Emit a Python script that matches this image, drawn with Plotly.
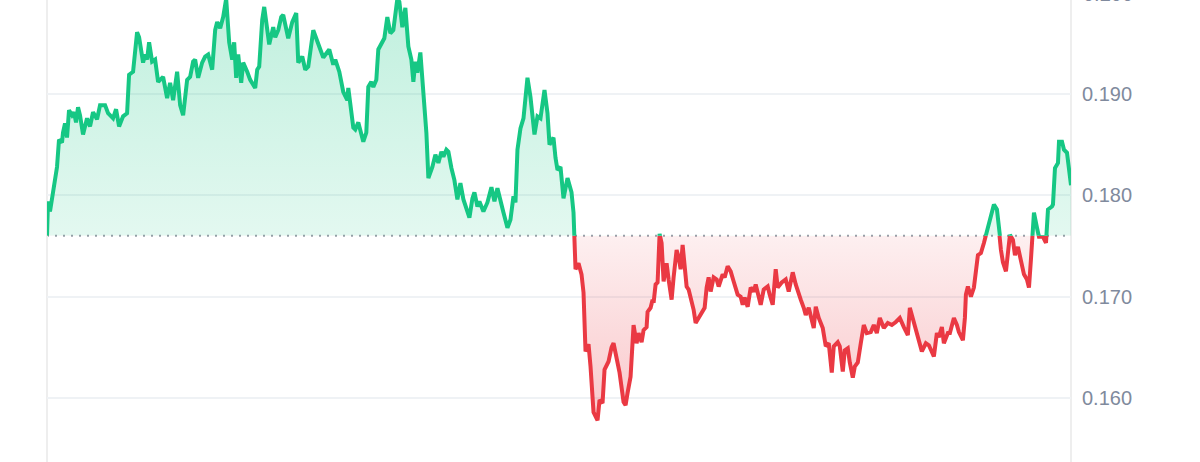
import plotly.graph_objects as go

# minutes since window start
minutes = [
    0, 1, 3, 6, 10, 12, 15, 16, 18, 20, 22, 25, 27, 29, 31, 33, 36, 40, 43, 46,
    50, 53, 58, 61, 66, 69, 72, 76, 80, 82, 86, 87, 90, 92, 96, 98, 100, 102, 105, 108,
    111, 116, 120, 123, 126, 130, 133, 136, 140, 143, 146, 148, 151, 155, 158, 161, 165, 168, 170, 173,
    176, 179, 182, 185, 187, 189, 191, 194, 196, 200, 203, 208, 210, 212, 215, 217, 220, 222, 226, 228,
    231, 234, 236, 238, 240, 241, 245, 249, 251, 255, 258, 261, 266, 270, 273, 276, 282, 286, 288, 292,
    296, 300, 301, 304, 306, 308, 311, 316, 319, 321, 324, 326, 329, 331, 335, 337, 340, 343, 346, 350,
    352, 355, 358, 361, 364, 366, 368, 370, 373, 376, 379, 381, 385, 388, 391, 394, 396, 399, 401, 404,
    407, 410, 413, 416, 419, 422, 425, 427, 430, 432, 436, 440, 444, 447, 450, 453, 456, 460, 463, 466,
    468, 470, 473, 476, 480, 483, 487, 490, 493, 497, 500, 502, 506, 508, 510, 513, 516, 520, 524, 526,
    528, 531, 534, 536, 538, 541, 543, 546, 550, 552, 555, 557, 561, 564, 566, 570, 572, 576, 578, 580,
    583, 586, 589, 591, 594, 596, 599, 600, 603, 605, 606, 608, 610, 612, 614, 616, 619, 621, 624, 626,
    629, 631, 633, 635, 637, 639, 641, 644, 646, 648, 651, 655, 657, 659, 661, 663, 666, 669, 671, 675,
    677, 680, 683, 686, 690, 693, 695, 697, 700, 703, 706, 708, 710, 713, 716, 720, 722, 725, 728, 730,
    734, 738, 741, 745, 748, 750, 753, 756, 758, 761, 766, 768, 771, 775, 778, 781, 784, 786, 790, 792,
    795, 797, 800, 802, 805, 807, 810, 813, 816, 819, 823, 826, 829, 832, 836, 840, 844, 848, 852, 856,
    860, 862, 866, 868, 871, 874, 878, 881, 886, 889, 891, 894, 896, 900, 902, 906, 909, 911, 915, 917,
    918, 920, 923, 926, 930, 933, 936, 938, 941, 943, 946, 949, 951, 953, 955, 958, 960, 962, 965, 967,
    970, 973, 976, 979, 981, 983, 985, 986, 989, 991, 995, 998, 1000, 1004, 1005, 1007, 1010, 1011, 1014, 1016,
    1019, 1022, 1023,
]

price = [
    0.1760, 0.1794, 0.1784, 0.1802, 0.1828, 0.1855, 0.1852, 0.1862, 0.1871, 0.1857, 0.1884, 0.1879, 0.1882, 0.1872, 0.1887, 0.1879, 0.1860, 0.1876, 0.1868, 0.1882,
    0.1875, 0.1889, 0.1889, 0.1881, 0.1876, 0.1885, 0.1868, 0.1878, 0.1881, 0.1919, 0.1922, 0.1932, 0.1961, 0.1956, 0.1931, 0.1939, 0.1934, 0.1951, 0.1932, 0.1934,
    0.1912, 0.1917, 0.1896, 0.1911, 0.1894, 0.1922, 0.1889, 0.1879, 0.1914, 0.1917, 0.1932, 0.1934, 0.1916, 0.1931, 0.1937, 0.1939, 0.1924, 0.1963, 0.1971, 0.1965,
    0.1976, 0.1994, 0.1951, 0.1934, 0.1951, 0.1916, 0.1939, 0.1911, 0.1931, 0.1922, 0.1914, 0.1906, 0.1924, 0.1927, 0.1973, 0.1986, 0.1963, 0.1949, 0.1966, 0.1956,
    0.1963, 0.1976, 0.1978, 0.1970, 0.1960, 0.1955, 0.1971, 0.1980, 0.1931, 0.1937, 0.1924, 0.1927, 0.1963, 0.1952, 0.1942, 0.1936, 0.1944, 0.1929, 0.1934, 0.1922,
    0.1902, 0.1894, 0.1906, 0.1884, 0.1867, 0.1865, 0.1872, 0.1853, 0.1862, 0.1907, 0.1912, 0.1907, 0.1914, 0.1944, 0.1951, 0.1955, 0.1976, 0.1960, 0.1963, 0.1994,
    0.1991, 0.1966, 0.1985, 0.1947, 0.1934, 0.1912, 0.1932, 0.1921, 0.1941, 0.1907, 0.1862, 0.1817, 0.1828, 0.1840, 0.1832, 0.1843, 0.1838, 0.1845, 0.1843, 0.1827,
    0.1815, 0.1796, 0.1812, 0.1796, 0.1788, 0.1778, 0.1797, 0.1803, 0.1789, 0.1794, 0.1784, 0.1793, 0.1808, 0.1794, 0.1807, 0.1793, 0.1783, 0.1768, 0.1776, 0.1799,
    0.1793, 0.1845, 0.1866, 0.1876, 0.1916, 0.1897, 0.1860, 0.1878, 0.1876, 0.1904, 0.1881, 0.1850, 0.1857, 0.1837, 0.1825, 0.1828, 0.1797, 0.1817, 0.1803, 0.1783,
    0.1727, 0.1733, 0.1722, 0.1704, 0.1646, 0.1653, 0.1631, 0.1586, 0.1578, 0.1598, 0.1595, 0.1628, 0.1636, 0.1650, 0.1654, 0.1631, 0.1625, 0.1596, 0.1593, 0.1605,
    0.1621, 0.1672, 0.1654, 0.1664, 0.1655, 0.1667, 0.1670, 0.1685, 0.1689, 0.1697, 0.1694, 0.1712, 0.1714, 0.1762, 0.1753, 0.1715, 0.1733, 0.1717, 0.1697, 0.1719,
    0.1746, 0.1739, 0.1727, 0.1751, 0.1727, 0.1710, 0.1707, 0.1697, 0.1687, 0.1674, 0.1679, 0.1685, 0.1689, 0.1709, 0.1719, 0.1705, 0.1719, 0.1717, 0.1710, 0.1722,
    0.1719, 0.1730, 0.1725, 0.1715, 0.1702, 0.1700, 0.1692, 0.1699, 0.1690, 0.1709, 0.1705, 0.1712, 0.1705, 0.1692, 0.1707, 0.1710, 0.1702, 0.1692, 0.1727, 0.1709,
    0.1714, 0.1717, 0.1705, 0.1724, 0.1712, 0.1707, 0.1697, 0.1689, 0.1682, 0.1689, 0.1669, 0.1690, 0.1679, 0.1669, 0.1651, 0.1654, 0.1625, 0.1651, 0.1655, 0.1651,
    0.1626, 0.1647, 0.1649, 0.1635, 0.1620, 0.1631, 0.1635, 0.1654, 0.1672, 0.1664, 0.1665, 0.1672, 0.1664, 0.1679, 0.1669, 0.1674, 0.1672, 0.1675, 0.1679, 0.1670,
    0.1662, 0.1689, 0.1674, 0.1665, 0.1654, 0.1646, 0.1654, 0.1652, 0.1641, 0.1664, 0.1660, 0.1670, 0.1654, 0.1664, 0.1664, 0.1679, 0.1672, 0.1665, 0.1657, 0.1679,
    0.1702, 0.1710, 0.1700, 0.1709, 0.1741, 0.1743, 0.1753, 0.1761, 0.1773, 0.1783, 0.1791, 0.1786, 0.1763, 0.1746, 0.1734, 0.1725, 0.1743, 0.1761, 0.1756, 0.1741,
    0.1749, 0.1734, 0.1722, 0.1717, 0.1709, 0.1737, 0.1763, 0.1783, 0.1768, 0.1759, 0.1759, 0.1753, 0.1786, 0.1789, 0.1791, 0.1827, 0.1832, 0.1853, 0.1853, 0.1845,
    0.1842, 0.1813, 0.1810,
]

baseline = 0.1760
y_min, y_max = 0.15368, 0.19928
ticks_low = [0.160, 0.170]
ticks_high = [0.180, 0.190, 0.200]
tick_text_low = ["0.160", "0.170"]
tick_text_high = ["0.180", "0.190", "0.200"]

GREEN = "#16c784"
RED = "#ea3943"
GRID = "#eff2f5"
LABEL = "#808a9d"
FONT = "Liberation Sans, Arial, sans-serif"

split = (baseline - y_min) / (y_max - y_min)
x_span = [minutes[0], minutes[-1]]

fig = go.Figure()

# upper (above-baseline) panel
fig.add_trace(go.Scatter(x=x_span, y=[baseline, baseline], mode="lines",
                         line=dict(width=0), xaxis="x", yaxis="y2",
                         hoverinfo="skip", showlegend=False))
fig.add_trace(go.Scatter(x=minutes, y=price, mode="lines", xaxis="x", yaxis="y2",
                         line=dict(color=GREEN, width=4), fill="tonexty",
                         fillgradient=dict(type="vertical", start=baseline, stop=max(price),
                                           colorscale=[[0, "rgba(22,199,132,0.12)"],
                                                       [1, "rgba(22,199,132,0.27)"]]),
                         showlegend=False))
# lower (below-baseline) panel
fig.add_trace(go.Scatter(x=x_span, y=[baseline, baseline], mode="lines",
                         line=dict(width=0), xaxis="x", yaxis="y",
                         hoverinfo="skip", showlegend=False))
fig.add_trace(go.Scatter(x=minutes, y=price, mode="lines", xaxis="x", yaxis="y",
                         line=dict(color=RED, width=4), fill="tonexty",
                         fillgradient=dict(type="vertical", start=min(price), stop=baseline,
                                           colorscale=[[0, "rgba(234,57,67,0.28)"],
                                                       [1, "rgba(234,57,67,0.08)"]]),
                         showlegend=False))

axis_common = dict(side="right", showline=False, zeroline=False, ticks="",
                   gridcolor=GRID, gridwidth=2, showgrid=True,
                   tickfont=dict(family=FONT, size=20, color=LABEL),
                   ticklabelstandoff=10, fixedrange=True)

fig.update_layout(
    width=1200, height=462,
    margin=dict(l=47, r=129, t=0, b=0),
    paper_bgcolor="white", plot_bgcolor="white",
    xaxis=dict(range=x_span, showgrid=False, zeroline=False, showticklabels=False,
               showline=False, ticks="", fixedrange=True),
    yaxis=dict(domain=[0, split], range=[y_min, baseline], tickvals=ticks_low,
               ticktext=tick_text_low, **axis_common),
    yaxis2=dict(domain=[split, 1], range=[baseline, y_max], tickvals=ticks_high,
                ticktext=tick_text_high, anchor="x", **axis_common),
    shapes=[
        dict(type="line", xref="paper", yref="paper", x0=0, x1=1, y0=split, y1=split,
             line=dict(color="#9aa0aa", width=2, dash="2px,6px"), layer="below"),
        dict(type="line", xref="paper", yref="paper", x0=0, x1=0, y0=0, y1=1,
             line=dict(color="#eeeeee", width=2), layer="below"),
        dict(type="line", xref="paper", yref="paper", x0=1, x1=1, y0=0, y1=1,
             line=dict(color="#eeeeee", width=2), layer="below"),
    ],
    annotations=[
        dict(xref="paper", yref="paper", x=1, y=1, text=tick_text_high[2],
             showarrow=False, xanchor="left", yanchor="middle", xshift=10, yshift=6,
             font=dict(family=FONT, size=20, color=LABEL)),
    ],
)

fig.write_html(
    "out.html",
    config={"displayModeBar": False},
    post_script="document.body.style.margin='0';document.body.style.overflow='hidden';",
)
